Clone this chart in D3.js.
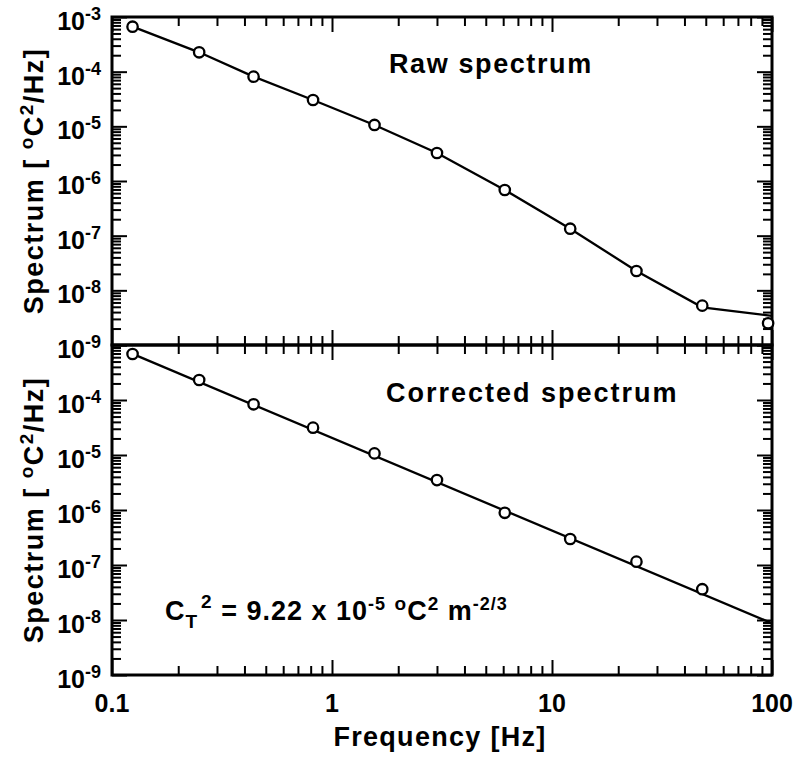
<!DOCTYPE html>
<html lang="en">
<head>
    <meta charset="UTF-8">
    <title>Raw and corrected spectrum</title>
    <script src="https://cdn.jsdelivr.net/npm/d3@7"></script>
    <style>
        body { margin: 0; background: #fff; }
        svg { display: block; }
        text { font-family: "Liberation Sans", Arial, Helvetica, sans-serif; font-weight: bold; fill: #000; }
    </style>
</head>
<body>
    <svg id="chart" width="794" height="760"></svg>
    <script>
        // values
        const freqs = [0.124, 0.249, 0.44, 0.82, 1.56, 3.0, 6.1, 12.1, 24.2, 48.2, 96];
        const rawSpec = [6.65e-4, 2.26e-4, 8.1e-5, 3.03e-5, 1.06e-5, 3.25e-6, 6.85e-7, 1.34e-7, 2.26e-8, 5.25e-9, 2.5e-9];
        const corrFreqs = [0.124, 0.249, 0.44, 0.82, 1.56, 3.0, 6.1, 12.1, 24.2, 48.2];
        const corrSpec = [6.86e-4, 2.31e-4, 8.35e-5, 3.14e-5, 1.07e-5, 3.5e-6, 8.9e-7, 2.97e-7, 1.15e-7, 3.63e-8];

        // fitted curves
        const rawFitFreqs = [0.124, 0.249, 0.44, 0.82, 1.56, 3.0, 6.1, 12.1, 24.2, 48.2, 100];
        const rawFit = [6.65e-4, 2.26e-4, 8.1e-5, 3.03e-5, 1.06e-5, 3.25e-6, 6.85e-7, 1.34e-7, 2.26e-8, 4.9e-9, 3.4e-9];
        const corrFitFreqs = [0.124, 100];
        const corrFit = [6.9e-4, 8.7e-9];

        const xTickLabels = ["0.1", "1", "10", "100"];
        const topExps = [-3, -4, -5, -6, -7, -8, -9];
        const bottomExps = [-4, -5, -6, -7, -8, -9];

        const svg = d3.select("#chart");
        svg.append("rect").attr("width", 794).attr("height", 760).attr("fill", "#fff");

        const left = 112, right = 772;
        const x = d3.scaleLog().domain([0.1, 100]).range([left, right]);
        const yTop = d3.scaleLog().domain([1e-9, 1e-3]).range([345, 17]);
        const yBot = d3.scaleLog().domain([1e-9, 1e-3]).range([675, 345]);

        // tick values
        const xMajor = [0.1, 1, 10, 100];
        const xMinor = [];
        for (let e = -1; e < 2; e++) {
            for (let m = 2; m < 10; m++) xMinor.push(m * Math.pow(10, e));
        }
        const yMajor = d3.range(-9, -2).map(e => Math.pow(10, e));
        const yMinor = [];
        for (let e = -9; e < -3; e++) {
            for (let m = 2; m < 10; m++) yMinor.push(m * Math.pow(10, e));
        }

        function drawPanel(y, top, bottom, exps, fitF, fitV, ptF, ptV) {
            const g = svg.append("g");

            // x ticks on top and bottom edges (pointing inward)
            [[d3.axisTop, bottom], [d3.axisBottom, top]].forEach(([ax, pos]) => {
                g.append("g").attr("transform", `translate(0,${pos})`)
                    .call(ax(x).tickValues(xMinor).tickSize(9).tickFormat(""));
                g.append("g").attr("transform", `translate(0,${pos})`)
                    .call(ax(x).tickValues(xMajor).tickSize(15).tickFormat(""));
            });
            // y ticks on left and right edges (pointing inward)
            [[d3.axisRight, left], [d3.axisLeft, right]].forEach(([ax, pos]) => {
                g.append("g").attr("transform", `translate(${pos},0)`)
                    .call(ax(y).tickValues(yMinor).tickSize(9).tickFormat(""));
                g.append("g").attr("transform", `translate(${pos},0)`)
                    .call(ax(y).tickValues(yMajor).tickSize(15).tickFormat(""));
            });
            g.selectAll(".domain").remove();
            g.selectAll(".tick line").attr("stroke", "#000").attr("stroke-width", 2);

            g.append("rect")
                .attr("x", left).attr("y", top)
                .attr("width", right - left).attr("height", bottom - top)
                .attr("fill", "none").attr("stroke", "#000").attr("stroke-width", 3);

            // y tick labels 10^n
            exps.forEach(e => {
                const t = g.append("text")
                    .attr("x", 101).attr("y", y(Math.pow(10, e)) + 13)
                    .attr("text-anchor", "end").attr("font-size", 25);
                t.append("tspan").text("10");
                t.append("tspan").attr("dy", -10).attr("font-size", 18).text(e);
            });

            const line = d3.line().x(d => x(d[0])).y(d => y(d[1]));
            g.append("path")
                .datum(fitF.map((f, i) => [f, fitV[i]]))
                .attr("fill", "none").attr("stroke", "#000").attr("stroke-width", 2.3)
                .attr("d", line);

            g.selectAll("circle.pt")
                .data(ptF.map((f, i) => [f, ptV[i]]))
                .join("circle")
                .attr("class", "pt")
                .attr("cx", d => x(d[0])).attr("cy", d => y(d[1]))
                .attr("r", 5.2)
                .attr("fill", "#fff").attr("stroke", "#000").attr("stroke-width", 2.3);
        }

        drawPanel(yTop, 17, 345, topExps, rawFitFreqs, rawFit, freqs, rawSpec);
        drawPanel(yBot, 345, 675, bottomExps, corrFitFreqs, corrFit, corrFreqs, corrSpec);

        // x tick labels
        svg.selectAll("text.xlab")
            .data(xMajor)
            .join("text")
            .attr("class", "xlab")
            .attr("x", d => x(d)).attr("y", 712)
            .attr("text-anchor", "middle").attr("font-size", 25)
            .text((d, i) => xTickLabels[i]);

        svg.append("text")
            .attr("x", (left + right) / 2 - 2).attr("y", 746)
            .attr("text-anchor", "middle").attr("font-size", 27)
            .attr("letter-spacing", 1.3)
            .text("Frequency [Hz]");

        // y axis titles
        [[17, 345], [345, 675]].forEach(([t, b]) => {
            const yt = svg.append("text")
                .attr("transform", `translate(43,${(t + b) / 2}) rotate(-90)`)
                .attr("text-anchor", "middle").attr("font-size", 27)
                .attr("letter-spacing", 1.5);
            yt.append("tspan").text("Spectrum [ ");
            yt.append("tspan").attr("dy", -10).attr("font-size", 19).text("o");
            yt.append("tspan").attr("dy", 10).text("C");
            yt.append("tspan").attr("dy", -10).attr("font-size", 19).text("2");
            yt.append("tspan").attr("dy", 10).text("/Hz]");
        });

        // panel labels
        svg.append("text").attr("x", 389).attr("y", 73)
            .attr("font-size", 27).attr("letter-spacing", 1.6)
            .text("Raw spectrum");
        svg.append("text").attr("x", 386).attr("y", 402)
            .attr("font-size", 27).attr("letter-spacing", 2)
            .text("Corrected spectrum");

        const ct = svg.append("text").attr("x", 165).attr("y", 620)
            .attr("font-size", 27).attr("letter-spacing", 1);
        ct.append("tspan").text("C");
        ct.append("tspan").attr("dy", 8).attr("font-size", 19).text("T");
        ct.append("tspan").attr("dy", -20).attr("font-size", 19).attr("dx", 3).text("2");
        ct.append("tspan").attr("dy", 12).text(" = 9.22 x 10");
        ct.append("tspan").attr("dy", -10).attr("font-size", 18).text("-5");
        ct.append("tspan").attr("dy", 10).text(" ");
        ct.append("tspan").attr("dy", -10).attr("font-size", 19).text("o");
        ct.append("tspan").attr("dy", 10).text("C");
        ct.append("tspan").attr("dy", -10).attr("font-size", 19).text("2");
        ct.append("tspan").attr("dy", 10).text(" m");
        ct.append("tspan").attr("dy", -10).attr("font-size", 18).text("-2/3");
    </script>
</body>
</html>
